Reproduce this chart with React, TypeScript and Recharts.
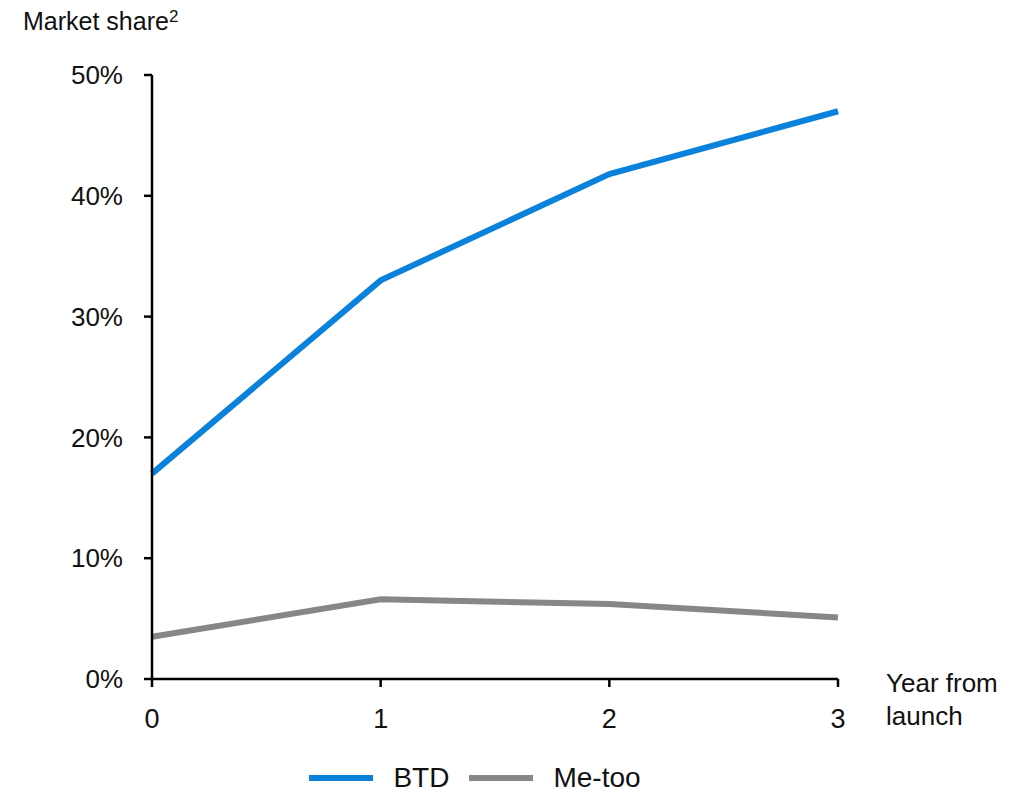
import React from 'react';
import { LineChart, Line, XAxis, YAxis, Legend } from 'recharts';

const years = [0, 1, 2, 3];
const btd = [17, 33, 41.8, 47];
const meToo = [3.5, 6.6, 6.2, 5.1];
const yTicks = [0, 10, 20, 30, 40, 50];

const data = years.map((y, i) => ({ year: y, BTD: btd[i], 'Me-too': meToo[i] }));

const FONT = '"Liberation Sans", Arial, sans-serif';

const legendItems = [
  { name: 'BTD', color: '#0A82DC' },
  { name: 'Me-too', color: '#878787' },
];

const LegendContent = () => (
  <div style={{ display: 'flex', alignItems: 'center', justifyContent: 'center', height: 40, fontFamily: FONT, fontSize: 28, color: '#111', paddingLeft: 60 }}>
    {legendItems.map((it) => (
      <div key={it.name} style={{ display: 'flex', alignItems: 'center', marginRight: 20 }}>
        <div style={{ width: 64, height: 6, background: it.color, marginRight: 20 }} />
        <span>{it.name}</span>
      </div>
    ))}
  </div>
);

const XLabel = (props: any) => {
  const vb = props.viewBox || {};
  const x = vb.x + vb.width + 48;
  const y = vb.y;
  return (
    <text x={x} y={y} fontFamily={FONT} fontSize={26} fill="#111">
      <tspan x={x} y={y + 13}>Year from</tspan>
      <tspan x={x} y={y + 46}>launch</tspan>
    </text>
  );
};

const YLabel = (props: any) => {
  const vb = props.viewBox || {};
  const x = vb.x + vb.width - 129;
  const y = vb.y - 45;
  return (
    <text x={x} y={y} fontFamily={FONT} fontSize={25} fill="#111">
      Market share<tspan fontSize={17} dy={-8}>2</tspan>
    </text>
  );
};

export default function App() {
  return (
    <div style={{ margin: '-8px 0 0 -8px', width: 1026, height: 794, background: '#fff' }}>
      <LineChart width={1026} height={794} data={data} margin={{ top: 75, right: 188, left: 72, bottom: 35 }}>
        <XAxis
          dataKey="year"
          type="number"
          domain={[0, 3]}
          ticks={years}
          height={40}
          tickSize={8}
          tickMargin={22}
          axisLine={{ stroke: '#000', strokeWidth: 2.5 }}
          tickLine={{ stroke: '#000', strokeWidth: 2.5 }}
          tick={{ fontFamily: FONT, fontSize: 27, fill: '#111' }}
          label={<XLabel />}
        />
        <YAxis
          domain={[0, 50]}
          ticks={yTicks}
          width={80}
          tickSize={8}
          tickMargin={21}
          tickFormatter={(v: number) => `${v}%`}
          axisLine={{ stroke: '#000', strokeWidth: 2.5 }}
          tickLine={{ stroke: '#000', strokeWidth: 2.5 }}
          tick={{ fontFamily: FONT, fontSize: 26, fill: '#111' }}
          label={<YLabel />}
        />
        <Legend verticalAlign="bottom" wrapperStyle={{ bottom: -4 }} content={<LegendContent />} />
        <Line dataKey="BTD" stroke="#0A82DC" strokeWidth={6} dot={false} isAnimationActive={false} />
        <Line dataKey="Me-too" stroke="#878787" strokeWidth={6} dot={false} isAnimationActive={false} />
      </LineChart>
    </div>
  );
}
